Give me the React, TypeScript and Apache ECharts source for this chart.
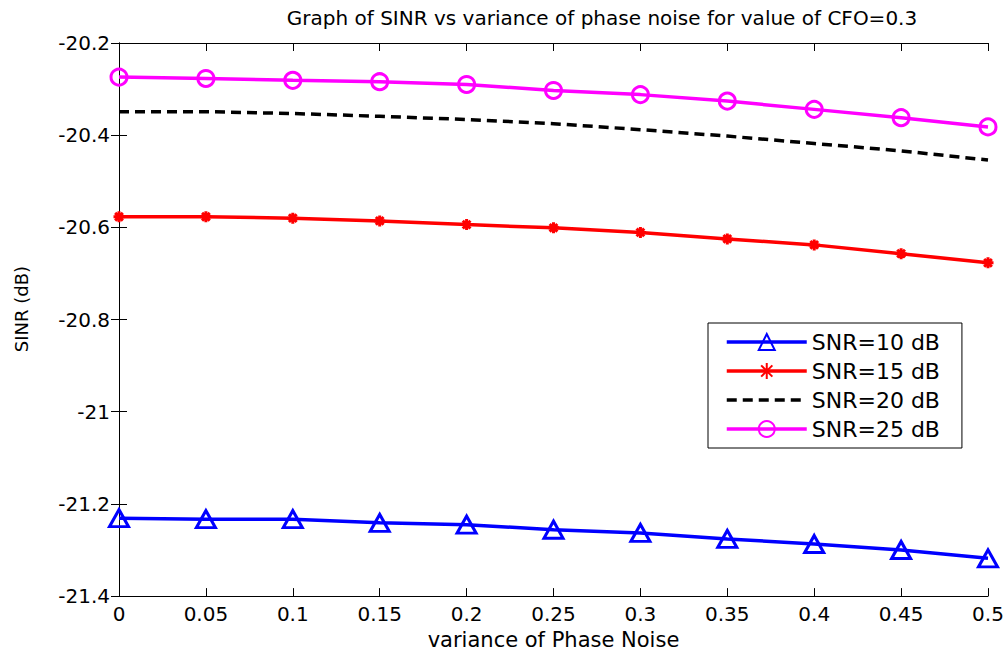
import React, { useEffect, useRef } from "react";
import * as echarts from "echarts";

const xValues = [0, 0.05, 0.1, 0.15, 0.2, 0.25, 0.3, 0.35, 0.4, 0.45, 0.5];
const snr10 = [-21.231, -21.233, -21.233, -21.241, -21.245, -21.256, -21.263, -21.276, -21.287, -21.3, -21.318];
const snr15 = [-20.577, -20.577, -20.58, -20.586, -20.594, -20.601, -20.611, -20.625, -20.638, -20.657, -20.677];
const snr20 = [-20.349, -20.349, -20.353, -20.359, -20.366, -20.375, -20.388, -20.402, -20.418, -20.434, -20.454];
const snr25 = [-20.274, -20.277, -20.281, -20.284, -20.29, -20.303, -20.312, -20.326, -20.344, -20.362, -20.382];
const seriesNames = ["SNR=10 dB", "SNR=15 dB", "SNR=20 dB", "SNR=25 dB"];
const titleText = "Graph of SINR vs variance of phase noise for value of CFO=0.3";
const xName = "variance of Phase Noise";
const yName = "SINR (dB)";

const FONT = "'DejaVu Sans', Arial, sans-serif";

const pairs = (ys: number[]) => xValues.map((x, i) => [x, ys[i]]);

export default function App() {
  const ref = useRef<HTMLDivElement>(null);
  useEffect(() => {
    if (!ref.current) return;
    const chart = echarts.init(ref.current, undefined, { renderer: "svg" });
    const yFmt = (v: number) => String(Number(v.toFixed(1)));
    const xFmt = (v: number) => String(Number(v.toFixed(2)));
    const common = {
      axisLine: { show: true, lineStyle: { color: "#000", width: 1 } },
      axisTick: { show: true, inside: true, length: 8, lineStyle: { color: "#000", width: 1 } },
      splitLine: { show: false },
    };
    chart.setOption({
      animation: false,
      backgroundColor: "#fff",
      title: {
        text: titleText,
        left: 597,
        textAlign: "center",
        top: 3,
        textStyle: { fontFamily: FONT, fontSize: 20, fontWeight: "normal", color: "#000" },
      },
      grid: { left: 119, right: 20, top: 43, bottom: 58, containLabel: false },
      xAxis: [
        {
          type: "value",
          min: 0,
          max: 0.5,
          interval: 0.05,
          position: "bottom",
          name: xName,
          nameLocation: "middle",
          nameGap: 32,
          nameTextStyle: { fontFamily: FONT, fontSize: 21, color: "#000" },
          axisLabel: { formatter: xFmt, fontFamily: FONT, fontSize: 20, color: "#000", margin: 8 },
          ...common,
        },
        {
          type: "value",
          min: 0,
          max: 0.5,
          interval: 0.05,
          position: "top",
          axisLabel: { show: false },
          ...common,
        },
      ],
      yAxis: [
        {
          type: "value",
          min: -21.4,
          max: -20.2,
          interval: 0.2,
          position: "left",
          axisLabel: { formatter: yFmt, fontFamily: FONT, fontSize: 20, color: "#000", margin: 9 },
          ...common,
        },
        {
          type: "value",
          min: -21.4,
          max: -20.2,
          interval: 0.2,
          position: "right",
          axisLabel: { show: false },
          ...common,
        },
      ],
      legend: {
        orient: "vertical",
        left: 708,
        top: 323,
        padding: [8, 22, 8, 17],
        itemGap: 7,
        itemWidth: 80,
        itemHeight: 20,
        borderColor: "#000",
        borderWidth: 1,
        backgroundColor: "#fff",
        textStyle: { fontFamily: FONT, fontSize: 22, color: "#000", lineHeight: 22 },
        data: [
          { name: seriesNames[0], lineStyle: { width: 3.5 } },
          { name: seriesNames[1], lineStyle: { width: 3.5 } },
          {
            name: seriesNames[2],
            lineStyle: { width: 3.5, type: [10, 6] },
            itemStyle: { color: "rgba(0,0,0,0)", borderWidth: 0, opacity: 0 },
          },
          { name: seriesNames[3], lineStyle: { width: 3.5 } },
        ],
      },
      graphic: [
        {
          type: "text",
          x: 21,
          y: 309,
          rotation: Math.PI / 2,
          style: {
            text: yName,
            font: `18px ${FONT}`,
            fill: "#000",
            textAlign: "center",
            textVerticalAlign: "middle",
          },
        },
      ],
      series: [
        {
          name: seriesNames[0],
          type: "line",
          data: pairs(snr10),
          symbol: "triangle",
          symbolSize: [19, 17],
          lineStyle: { color: "#0000ff", width: 3.5 },
          itemStyle: { color: "rgba(0,0,0,0)", borderColor: "#0000ff", borderWidth: 3 },
        },
        {
          name: seriesNames[1],
          type: "line",
          data: pairs(snr15),
          symbol: "path://M5,0L5,10M0,5L10,5M1.5,1.5L8.5,8.5M1.5,8.5L8.5,1.5",
          symbolSize: 11,
          lineStyle: { color: "#ff0000", width: 3.5 },
          itemStyle: { color: "#ff0000", borderColor: "#ff0000", borderWidth: 3 },
        },
        {
          name: seriesNames[2],
          type: "line",
          data: pairs(snr20),
          symbol: "none",
          showSymbol: false,
          lineStyle: { color: "#000", width: 3.5, type: [10, 6] },
          itemStyle: { color: "#000" },
        },
        {
          name: seriesNames[3],
          type: "line",
          data: pairs(snr25),
          symbol: "circle",
          symbolSize: 16,
          lineStyle: { color: "#ff00ff", width: 3.5 },
          itemStyle: { color: "rgba(0,0,0,0)", borderColor: "#ff00ff", borderWidth: 3 },
        },
      ],
    });
    return () => chart.dispose();
  }, []);
  return (
    <div
      ref={ref}
      style={{ position: "fixed", left: 0, top: 0, width: 1008, height: 655, background: "#fff" }}
    />
  );
}
